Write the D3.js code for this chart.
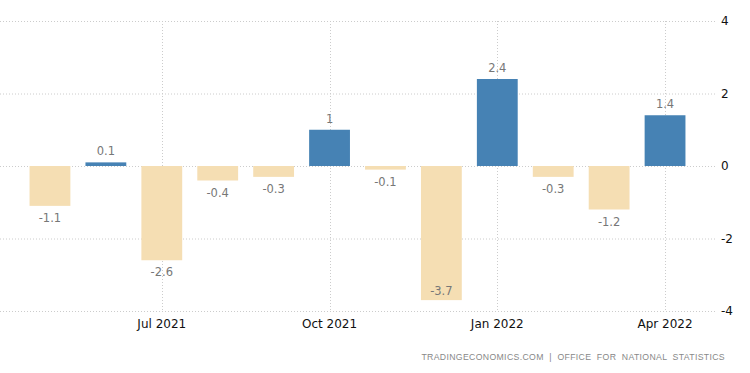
<!DOCTYPE html>
<html>
<head>
<meta charset="utf-8">
<script src="https://cdn.jsdelivr.net/npm/d3@7"></script>
<style>
  body { margin: 0; background: #fff; }
  .grid line { stroke: #ccc; stroke-dasharray: 1,2; }
  .val { font-family: "DejaVu Sans", sans-serif; font-size: 11.5px; fill: #777; }
  .tick-x { font-family: "DejaVu Sans", sans-serif; font-size: 12px; fill: #111; }
  .tick-y { font-family: "DejaVu Sans", sans-serif; font-size: 12px; fill: #111; }
  .src { font-family: "Liberation Sans", sans-serif; font-size: 8.7px; fill: #888; letter-spacing: 0.35px; white-space: pre; }
</style>
</head>
<body>
<svg width="750" height="373"></svg>
<script>
  // monthly change, May 2021 - Apr 2022
  var months = ['2021-05', '2021-06', '2021-07', '2021-08', '2021-09', '2021-10',
                '2021-11', '2021-12', '2022-01', '2022-02', '2022-03', '2022-04']
  var values = [-1.1, 0.1, -2.6, -0.4, -0.3, 1, -0.1, -3.7, 2.4, -0.3, -1.2, 1.4]
  var xTicks = ['2021-07', '2021-10', '2022-01', '2022-04']
  var xTickLabels = ['Jul 2021', 'Oct 2021', 'Jan 2022', 'Apr 2022']
  var yTicks = [4, 2, 0, -2, -4]

  var svg = d3.select('svg')

  var x = d3.scaleBand()
    .domain(months)
    .range([22, 693])
    .paddingInner(0.27)
    .paddingOuter(0.135)

  var y = d3.scaleLinear()
    .domain([-4, 4])
    .range([311, 21])

  var grid = svg.append('g').classed('grid', true)

  grid.selectAll('line.h')
    .data(yTicks)
    .enter()
    .append('line')
    .attr('x1', 0)
    .attr('x2', 717)
    .attr('y1', d => y(d) + 0.5)
    .attr('y2', d => y(d) + 0.5)

  grid.selectAll('line.v')
    .data(xTicks)
    .enter()
    .append('line')
    .attr('x1', d => Math.round(x(d) + x.bandwidth() / 2) + 0.5)
    .attr('x2', d => Math.round(x(d) + x.bandwidth() / 2) + 0.5)
    .attr('y1', y(4))
    .attr('y2', y(-4))

  svg.selectAll('rect.bar')
    .data(values)
    .enter()
    .append('rect')
    .classed('bar', true)
    .attr('x', (d, i) => x(months[i]))
    .attr('width', x.bandwidth())
    .attr('y', d => y(Math.max(0, d)))
    .attr('height', d => Math.abs(y(d) - y(0)))
    .style('fill', d => d >= 0 ? '#4682b4' : '#f5deb3')

  svg.selectAll('text.val')
    .data(values)
    .enter()
    .append('text')
    .classed('val', true)
    .attr('text-anchor', 'middle')
    .attr('x', (d, i) => x(months[i]) + x.bandwidth() / 2)
    .attr('y', d => {
      if (d >= 0) return y(d) - 7
      var p = y(d) + 16
      return p > y(-4) - 4 ? y(d) - 5 : p
    })
    .text(d => d)

  svg.selectAll('text.tick-x')
    .data(xTicks)
    .enter()
    .append('text')
    .classed('tick-x', true)
    .attr('text-anchor', 'middle')
    .attr('x', d => x(d) + x.bandwidth() / 2)
    .attr('y', 328)
    .text((d, i) => xTickLabels[i])

  svg.selectAll('text.tick-y')
    .data(yTicks)
    .enter()
    .append('text')
    .classed('tick-y', true)
    .attr('x', 721)
    .attr('y', d => y(d) + 4)
    .text(d => d)

  svg.append('text')
    .classed('src', true)
    .attr('text-anchor', 'end')
    .attr('x', 725)
    .attr('y', 360)
    .text('TRADINGECONOMICS.COM  |  OFFICE  FOR  NATIONAL  STATISTICS')
</script>
</body>
</html>
